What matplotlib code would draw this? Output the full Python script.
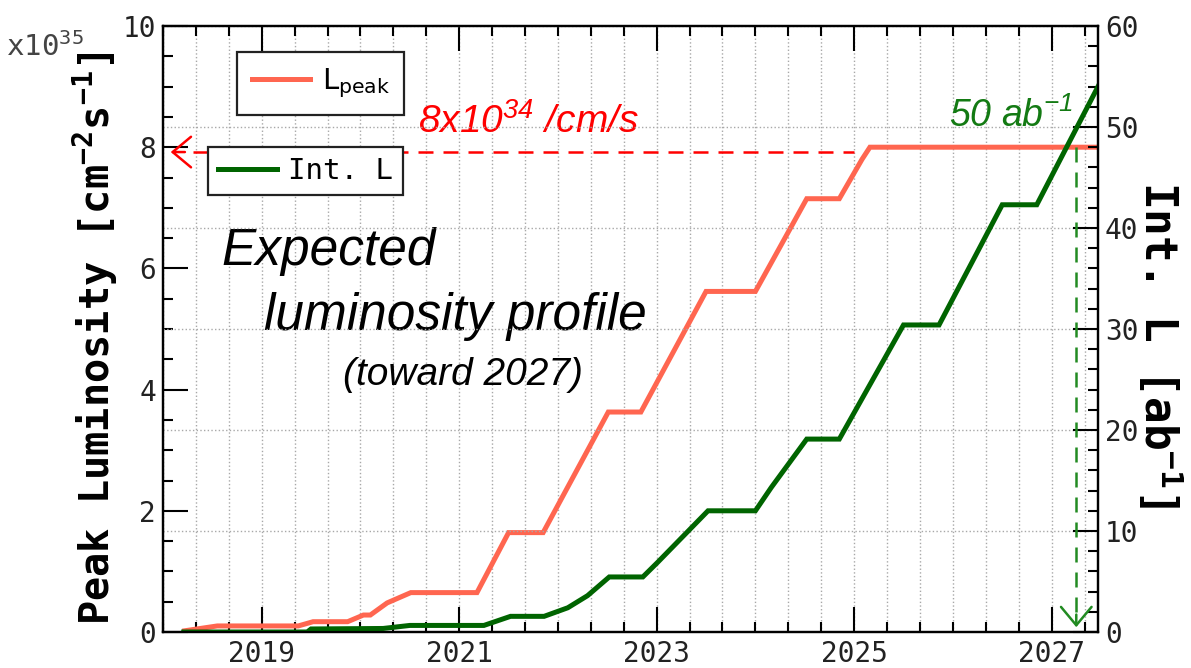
import matplotlib
matplotlib.use("Agg")
import matplotlib.pyplot as plt
from matplotlib.ticker import FixedLocator, MultipleLocator

plt.rcParams['mathtext.default'] = 'regular'

# peak luminosity [1e35 cm^-2 s^-1]
lpeak_year = [2018.22, 2018.55, 2019.37, 2019.52, 2019.87, 2020.03, 2020.10,
              2020.27, 2020.51, 2021.18, 2021.50, 2021.85, 2022.51, 2022.84,
              2023.50, 2024.00, 2024.52, 2024.85, 2025.08, 2025.16, 2027.47]
lpeak_val = [0.02, 0.10, 0.10, 0.17, 0.17, 0.28, 0.28,
             0.48, 0.65, 0.65, 1.64, 1.64, 3.63, 3.63,
             5.62, 5.62, 7.15, 7.15, 7.80, 8.00, 8.00]

# integrated luminosity [ab^-1]
intl_year = [2018.21, 2019.46, 2019.50, 2020.23, 2020.50, 2021.25, 2021.52,
             2021.86, 2022.10, 2022.30, 2022.52, 2022.86, 2023.01, 2023.28,
             2023.52, 2024.00, 2024.16, 2024.52, 2024.85, 2025.50, 2025.86,
             2026.50, 2026.85, 2027.47]
intl_val = [0.0, 0.0, 0.3, 0.35, 0.65, 0.65, 1.55,
            1.55, 2.4, 3.6, 5.45, 5.45, 6.9, 9.6,
            12.0, 12.0, 14.3, 19.1, 19.1, 30.4, 30.4,
            42.3, 42.3, 54.0]

year_ticks = [2019, 2021, 2023, 2025, 2027]
lpeak_goal = 7.92      # dashed "8x10^34" line
intl_goal_year = 2027.25
intl_goal = 48.0

MONO = 'DejaVu Sans Mono'
SANS = 'Liberation Sans'
RED = '#ff6650'
GREEN = '#006400'

fig = plt.figure(figsize=(11.91, 6.68), dpi=100)
ax = fig.add_axes([163 / 1191, 1 - 632 / 668, 935 / 1191, 606 / 668])
ax2 = ax.twinx()

ax.set_xlim(2018, 2027.47)
ax.set_ylim(0, 10)
ax2.set_ylim(0, 60)

ax.xaxis.set_major_locator(FixedLocator(year_ticks))
ax.xaxis.set_minor_locator(MultipleLocator(1 / 3))
ax.yaxis.set_major_locator(MultipleLocator(2))
ax.yaxis.set_minor_locator(MultipleLocator(0.5))
ax2.yaxis.set_major_locator(MultipleLocator(10))
ax2.yaxis.set_minor_locator(MultipleLocator(2))

for a in (ax, ax2):
    for s in a.spines.values():
        s.set_linewidth(1.6)
        s.set_color('black')
    a.tick_params(which='major', length=18, width=1.5, labelsize=20,
                  labelcolor='#222222', direction='in')
    a.tick_params(which='minor', length=7, width=1.5, direction='in')
ax.tick_params(axis='x', which='both', top=True, bottom=True, pad=6)
ax.tick_params(axis='y', which='both', left=True, right=False, pad=5)
ax2.tick_params(axis='y', which='both', right=True, left=False, pad=5)
for lab in ax.get_xticklabels() + ax.get_yticklabels() + ax2.get_yticklabels():
    lab.set_fontfamily(MONO)

ax.grid(which='both', axis='x', linestyle=':', color='#a8a8a8', lw=1)
ax2.grid(which='major', axis='y', linestyle=':', color='#a8a8a8', lw=1)

l1, = ax.plot(lpeak_year, lpeak_val, color=RED, lw=3.6, solid_joinstyle='miter')
l2, = ax2.plot(intl_year, intl_val, color=GREEN, lw=3.6, solid_joinstyle='miter')

# 8x10^34 target
ax.plot([2018.3, 2025.0], [lpeak_goal, lpeak_goal], color='red', lw=1.8,
        ls=(0, (6, 4)))
ax.annotate('', xy=(2018.05, lpeak_goal), xytext=(2018.25, lpeak_goal),
            arrowprops=dict(arrowstyle='->,head_length=0.6,head_width=0.5',
                            color='red', lw=1.8, mutation_scale=22))
ax.text(2020.58, 8.23, '8x10$^{34}$ /cm/s', color='red', fontsize=28,
        fontstyle='italic', fontfamily=SANS, va='baseline')

# 50 ab^-1 target
ax2.plot([intl_goal_year, intl_goal_year], [intl_goal, 1.5], color='#228b22',
         lw=1.8, ls=(0, (6, 4)))
ax2.annotate('', xy=(intl_goal_year, 0.2), xytext=(intl_goal_year, 2.0),
             arrowprops=dict(arrowstyle='->,head_length=0.6,head_width=0.5',
                             color='#228b22', lw=1.8, mutation_scale=22))
ax.text(2025.96, 8.33, '50 ab$^{-1}$', color='#137a13', fontsize=27,
        fontstyle='italic', fontfamily=SANS, va='baseline')

ax.text(2018.59, 6.06, 'Expected', fontsize=37, fontstyle='italic',
        fontfamily=SANS, va='baseline')
ax.text(2019.02, 4.98, 'luminosity profile', fontsize=37, fontstyle='italic',
        fontfamily=SANS, va='baseline')
ax.text(2019.82, 4.07, '(toward 2027)', fontsize=28, fontstyle='italic',
        fontfamily=SANS, va='baseline')

ax.set_ylabel('Peak Luminosity [cm$^{-2}$s$^{-1}$]', fontfamily=MONO,
              fontweight='bold', fontsize=29)
ax.yaxis.set_label_coords(-0.046, 0.485)
ax2.set_ylabel('Int. L [ab$^{-1}$]', fontfamily=MONO, fontweight='bold',
               fontsize=32, rotation=270, va='bottom')
ax2.yaxis.set_label_coords(1.04, 0.474)

fig.text(6 / 1191, 1 - 56 / 668, 'x10$^{35}$', fontfamily=MONO, fontsize=21,
         color='#444444', va='baseline')

leg1 = ax.legend([l1], ['L$_{peak}$'], loc='upper left',
                 bbox_to_anchor=(237 / 1191, 1 - 52 / 668),
                 bbox_transform=fig.transFigure, fancybox=False,
                 edgecolor='#222222', framealpha=1, borderaxespad=0,
                 borderpad=0.5, handlelength=2.0, handletextpad=0.4,
                 prop={'family': 'DejaVu Sans', 'size': 21})
leg1.get_frame().set_linewidth(1.6)
leg2 = ax2.legend([l2], ['Int. L'], loc='upper left',
                  bbox_to_anchor=(208 / 1191, 1 - 147 / 668),
                  bbox_transform=fig.transFigure, fancybox=False,
                  edgecolor='#222222', framealpha=1, borderaxespad=0,
                  borderpad=0.35, handlelength=2.0, handletextpad=0.4,
                  prop={'family': MONO, 'size': 21})
leg2.get_frame().set_linewidth(1.6)

fig.savefig('out.png', dpi=100)
